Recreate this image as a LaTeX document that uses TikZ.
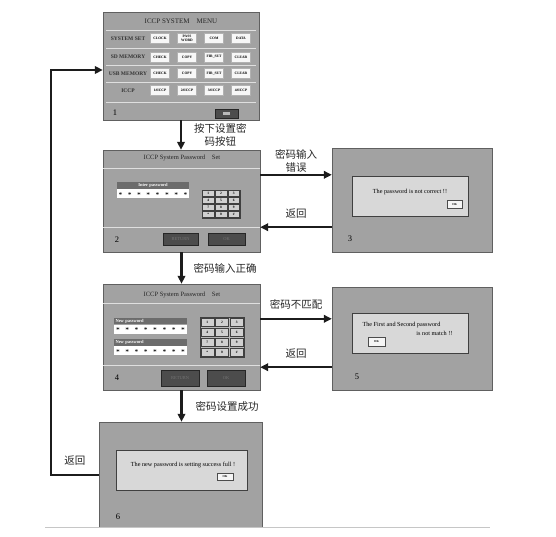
\documentclass[tikz,border=0pt]{standalone}
\usepackage{fontspec}
\setmainfont{Liberation Serif}
\newfontfamily\cjk{Noto Sans CJK SC}
\usepackage{tikz}
\usetikzlibrary{arrows.meta,positioning}
\usepackage{xcolor}
\definecolor{scrgray}{HTML}{A2A2A2}
\definecolor{dlggray}{HTML}{D8D8D8}
\definecolor{keygray}{HTML}{D0D0D0}
\definecolor{bargray}{HTML}{6C6C6C}
\definecolor{btngray}{HTML}{4C4C4C}
\definecolor{arrowblk}{HTML}{1C1C1C}
\newcommand\pwstars{$\boldsymbol{\ast}$\foreach\k in {1,...,7}{\hspace{5pt}$\boldsymbol{\ast}$}}
\usepackage{amsmath,amssymb}

\tikzset{
	screen/.style={rectangle,draw=gray!75!black,line width=0.4pt,fill=scrgray,inner sep=0pt},
	dialog/.style={rectangle,draw=black!75,line width=0.8pt,fill=dlggray,inner sep=0pt},
	menubtn/.style={rectangle,draw=gray!60,fill=white!94!gray,minimum width=19pt,minimum height=10pt,inner sep=0pt,align=center,font=\fontsize{3.6}{3.8}\selectfont\bfseries},
	rowlbl/.style={font=\fontsize{5.5}{5.5}\selectfont\bfseries,text=black!80},
	keybtn/.style={rectangle,draw=gray!50!black,fill=keygray,inner sep=0pt,font=\fontsize{3.5}{4}\selectfont\bfseries},
	keyframe/.style={rectangle,draw=gray!50!black,fill=gray!55,inner sep=0pt},
	darkbtn/.style={rectangle,draw=black!85,fill=btngray,inner sep=0pt,font=\fontsize{4.5}{5}\selectfont,text=gray!90!black},
	okbtn/.style={rectangle,draw=gray!60!black,fill=white!92!gray,minimum width=15pt,minimum height=8pt,inner sep=0pt,font=\fontsize{3}{3}\selectfont\bfseries},
	bar/.style={rectangle,fill=bargray,inner sep=0pt,text=white,font=\fontsize{4.5}{5}\selectfont\bfseries},
	field/.style={rectangle,fill=white,inner sep=0pt,font=\fontsize{6}{6}\selectfont},
	sep/.style={line width=0.7pt,draw=gray!25},
	flow/.style={-{Triangle[length=8pt,width=7.5pt]},line width=2.3pt,draw=arrowblk},
	lbl/.style={font=\cjk\fontsize{10.5}{13}\selectfont,inner sep=1pt,align=center,text=black!85},
	num/.style={font=\fontsize{8.5}{8.5}\selectfont},
	ttl/.style={font=\fontsize{6.5}{7}\selectfont,text=black!85},
	msg/.style={font=\fontsize{6.2}{6.5}\selectfont}
}

\begin{document}
\begin{tikzpicture}[x=1pt,y=-1pt]
	\useasboundingbox (0,0) rectangle (556,537);

	% screen 1: menu
	\node[screen,minimum width=156pt,minimum height=108pt] (s1) at (181,66) {};
	\node[ttl,font=\fontsize{7}{7}\selectfont] (s1t) at (181,21) {ICCP SYSTEM\quad MENU};
	\foreach \y in {30,48,65,82,102}
		\draw[sep] (106,\y) -- (256,\y);
	\foreach \y/\row [count=\i] in {38.5/SYSTEM SET,57/SD MEMORY,73.5/USB MEMORY,90.5/ICCP}
		\node[rowlbl] (row\i) at (128,\y) {\row};
	\foreach \t [count=\j] in {CLOCK,{PASS\\WORD},COM,DATA}
		\node[menubtn] (m1\j) at ({133+27*\j},38.5) {\t};
	\foreach \t [count=\j] in {CHECK,COPY,FIR\_SET,CLEAR}
		\node[menubtn] (m2\j) at ({133+27*\j},57) {\t};
	\foreach \t [count=\j] in {CHECK,COPY,FIR\_SET,CLEAR}
		\node[menubtn] (m3\j) at ({133+27*\j},73.5) {\t};
	\foreach \t [count=\j] in {1\#ICCP,2\#ICCP,3\#ICCP,4\#ICCP}
		\node[menubtn] (m4\j) at ({133+27*\j},90.5) {\t};
	\node[num] (n1) at (115,113) {1};
	\node[darkbtn,minimum width=23pt,minimum height=9pt] (esc1) at (226.5,113.5) {};
	\node[fill=gray!55,minimum width=7pt,minimum height=3pt,inner sep=0pt] (ico1) at (esc1) {};

	% screen 2: enter password
	\node[screen,minimum width=157pt,minimum height=102pt] (s2) at (181.5,201) {};
	\node[ttl] (s2t) at (182,158) {ICCP System Password\quad Set};
	\draw[sep] (103,168) -- (260,168);
	\node[bar,minimum width=72pt,minimum height=7pt] (pw2) at (153,185.5) {Inter password};
	\node[field,minimum width=72pt,minimum height=9pt,below=0pt of pw2] (f2) {\pwstars};
	\node[keyframe,minimum width=38pt,minimum height=28pt] (kp2) at (221,204) {};
	\foreach \k [count=\i from 0] in {1,2,3,4,5,6,7,8,9,*,0,\#}{
		\pgfmathsetmacro\kx{208.3+12.7*mod(\i,3)}
		\pgfmathsetmacro\ky{193.5+7*int(\i/3)}
		\node[keybtn,minimum width=11.5pt,minimum height=6pt] (k2\i) at (\kx,\ky) {\k};
	}
	\draw[sep] (103,227) -- (260,227);
	\node[num] (n2) at (117,240) {2};
	\node[darkbtn,minimum width=35pt,minimum height=12pt] (ret2) at (180.5,239) {RETURN};
	\node[darkbtn,minimum width=37pt,minimum height=12pt] (ok2) at (226.5,239) {OK};

	% screen 3: wrong password
	\node[screen,minimum width=160pt,minimum height=104pt] (s3) at (412,200) {};
	\node[dialog,minimum width=116pt,minimum height=40pt] (d3) at (410,196) {};
	\node[msg] (m3) at (410,192) {The password is not correct !!};
	\node[okbtn,above left=8pt and 6pt of d3.south east] (ok3) {OK};
	\node[num] (n3) at (350,239) {3};

	% screen 4: new password
	\node[screen,minimum width=157pt,minimum height=106pt] (s4) at (181.5,337) {};
	\node[ttl] (s4t) at (182,295) {ICCP System Password\quad Set};
	\draw[sep] (103,303) -- (260,303);
	\node[bar,minimum width=73pt,minimum height=6.5pt,text width=70pt,align=left] (pw4a) at (150.5,321) {New password};
	\node[field,minimum width=73pt,minimum height=9pt,below=0pt of pw4a] (f4a) {\pwstars};
	\node[bar,minimum width=73pt,minimum height=6.5pt,text width=70pt,align=left] (pw4b) at (150.5,342.5) {New password};
	\node[field,minimum width=73pt,minimum height=9pt,below=0pt of pw4b] (f4b) {\pwstars};
	\node[keyframe,minimum width=44pt,minimum height=40pt] (kp4) at (222,337) {};
	\foreach \k [count=\i from 0] in {1,2,3,4,5,6,7,8,9,*,0,\#}{
		\pgfmathsetmacro\kx{207.3+14.7*mod(\i,3)}
		\pgfmathsetmacro\ky{322+10*int(\i/3)}
		\node[keybtn,minimum width=13pt,minimum height=8.5pt] (k4\i) at (\kx,\ky) {\k};
	}
	\draw[sep] (103,365) -- (260,365);
	\node[num] (n4) at (117,378) {4};
	\node[darkbtn,minimum width=38pt,minimum height=16pt] (ret4) at (180,378) {RETURN};
	\node[darkbtn,minimum width=38pt,minimum height=16pt] (ok4) at (226,378) {OK};

	% screen 5: passwords differ
	\node[screen,minimum width=160pt,minimum height=103pt] (s5) at (412,338.5) {};
	\node[dialog,minimum width=116pt,minimum height=40pt] (d5) at (410,333) {};
	\node[msg,anchor=west] (m5a) at (359,325) {The First and Second password};
	\node[msg,anchor=east] (m5b) at (456,333) {is not match !!};
	\node[okbtn,minimum width=17pt,minimum height=9pt] (ok5) at (376.5,341.5) {OK};
	\node[num] (n5) at (357,377) {5};

	% screen 6: password set
	\node[screen,minimum width=163pt,minimum height=105pt] (s6) at (180.5,474.5) {};
	\node[dialog,minimum width=131pt,minimum height=40pt] (d6) at (181.5,470) {};
	\node[msg] (m6) at (183,465) {The new password is setting success full !};
	\node[okbtn,minimum width=16pt,minimum height=7pt] (ok6) at (225,476.5) {OK};
	\node[num] (n6) at (118,517) {6};
	\draw[gray!45,line width=0.8pt] (45,527) -- (490,527);

	% flow
	\draw[flow] (s1.south) -- node[lbl,right=11pt] (a12) {按下设置密\\码按钮} (s1.south |- s2.north);
	\draw[flow] ([yshift=-25pt]s2.north east) coordinate (p23) -- node[lbl,above=0pt] (a23) {密码输入\\错误} (p23 -| s3.west);
	\coordinate (p32) at ([yshift=25pt]s2.south east);
	\draw[flow] (p32 -| s3.west) -- node[lbl,above=7pt] (a32) {返回} (p32);
	\draw[flow] (s2.south) -- node[lbl,right=10pt] (a24) {密码输入正确} (s2.south |- s4.north);
	\draw[flow] ([yshift=-35pt]s4.north east) coordinate (p45) -- node[lbl,above=7pt] (a45) {密码不匹配} (p45 -| s5.west);
	\coordinate (p54) at ([yshift=23pt]s4.south east);
	\draw[flow] (p54 -| s5.west) -- node[lbl,above=7pt] (a54) {返回} (p54);
	\draw[flow] (s4.south) -- node[lbl,right=12pt] (a46) {密码设置成功} (s4.south |- s6.north);
	\coordinate (bend) at (51,70);
	\draw[flow,line width=2pt] (s6.west) -- node[lbl,above=7pt] (a61) {返回} (s6.west -| bend) -- (bend) -- (bend -| s1.west);
\end{tikzpicture}
\end{document}
